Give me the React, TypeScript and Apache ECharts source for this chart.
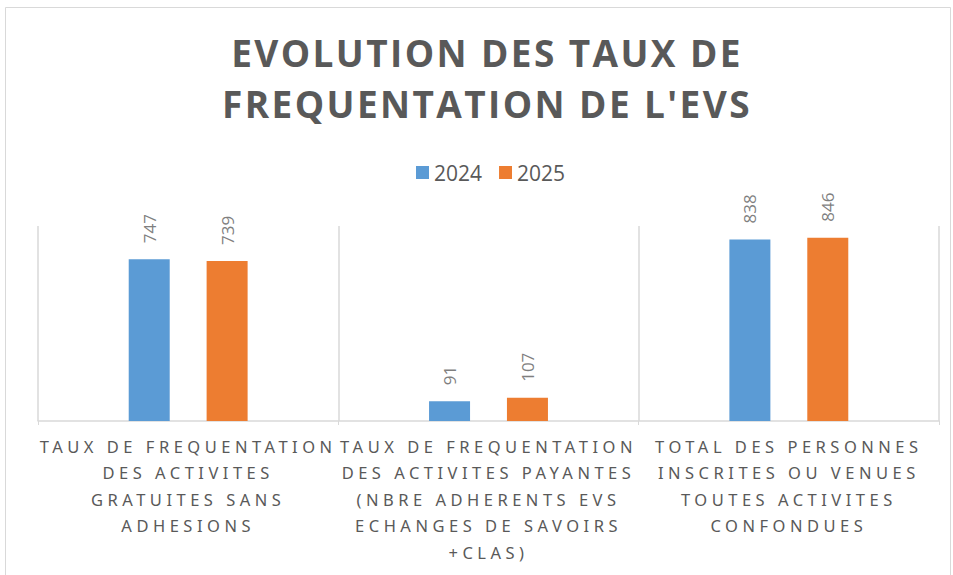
import React, { useEffect, useRef } from "react";
import * as echarts from "echarts";

const titleText = "EVOLUTION DES TAUX DE\nFREQUENTATION DE L'EVS";
const categories = [
  "TAUX DE FREQUENTATION\nDES ACTIVITES\nGRATUITES SANS\nADHESIONS",
  "TAUX DE FREQUENTATION\nDES ACTIVITES PAYANTES\n(NBRE ADHERENTS EVS\nECHANGES DE SAVOIRS\n+CLAS)",
  "TOTAL DES PERSONNES\nINSCRITES OU VENUES\nTOUTES ACTIVITES\nCONFONDUES",
];
const seriesNames = ["2024", "2025"];
const values2024 = [747, 91, 838];
const values2025 = [739, 107, 846];
const colors = ["#5b9bd5", "#ed7d31"];

export default function App() {
  const ref = useRef<HTMLDivElement>(null);
  useEffect(() => {
    if (!ref.current) return;
    const chart = echarts.init(ref.current, null, { renderer: "svg" });
    const valueLabel = {
      show: true,
      position: "top",
      rotate: 90,
      align: "left",
      verticalAlign: "middle",
      distance: 16,
      fontFamily: "Open Sans",
      fontSize: 17,
      color: "#7f7f7f",
    };
    chart.setOption({
      animation: false,
      backgroundColor: "#ffffff",
      title: {
        text: titleText,
        left: 487,
        textAlign: "center",
        top: 27,
        padding: 0,
        textStyle: {
          fontFamily: "Open Sans",
          fontWeight: "bold",
          fontSize: 37,
          lineHeight: 51,
          color: "#595959",
        },
      },
      legend: {
        data: seriesNames,
        left: 411,
        top: 157,
        itemWidth: 13,
        itemHeight: 13,
        itemGap: 17,
        icon: "rect",
        textStyle: { fontFamily: "Open Sans", fontSize: 21, color: "#595959" },
      },
      graphic: [
        {
          type: "rect",
          shape: { x: 5.5, y: 7.5, width: 945, height: 580 },
          style: { fill: "none", stroke: "#d9d9d9", lineWidth: 1 },
          silent: true,
        },
      ],
      grid: { left: 38, right: 14, top: 226, bottom: 154 },
      xAxis: {
        type: "category",
        data: categories,
        axisLine: { lineStyle: { color: "#d9d9d9", width: 1.5 } },
        axisTick: { show: true, length: 4, lineStyle: { color: "#d9d9d9" } },
        splitLine: { show: true, lineStyle: { color: "#d9d9d9", width: 1.5 } },
        axisLabel: {
          interval: 0,
          margin: 12,
          fontFamily: "Noto Sans",
          fontSize: 16.5,
          lineHeight: 26.5,
          color: "#595959",
          align: "center",
        },
      },
      yAxis: {
        type: "value",
        min: 0,
        max: 900,
        show: false,
        splitLine: { show: false },
      },
      series: [
        {
          name: seriesNames[0],
          type: "bar",
          data: values2024,
          barWidth: 41,
          barGap: "90%",
          itemStyle: { color: colors[0] },
          label: valueLabel,
        },
        {
          name: seriesNames[1],
          type: "bar",
          data: values2025,
          barWidth: 41,
          barGap: "90%",
          itemStyle: { color: colors[1] },
          label: valueLabel,
        },
      ],
    });
    return () => chart.dispose();
  }, []);
  return (
    <>
      <style>{`
        .evs-chart text[style*="bold"] { letter-spacing: 2.4px; }
        .evs-chart text[style*="Noto Sans"] { letter-spacing: 4.5px; }
      `}</style>
      <div
        ref={ref}
        className="evs-chart"
        style={{ position: "fixed", left: 0, top: 0, width: 953, height: 575 }}
      />
    </>
  );
}
